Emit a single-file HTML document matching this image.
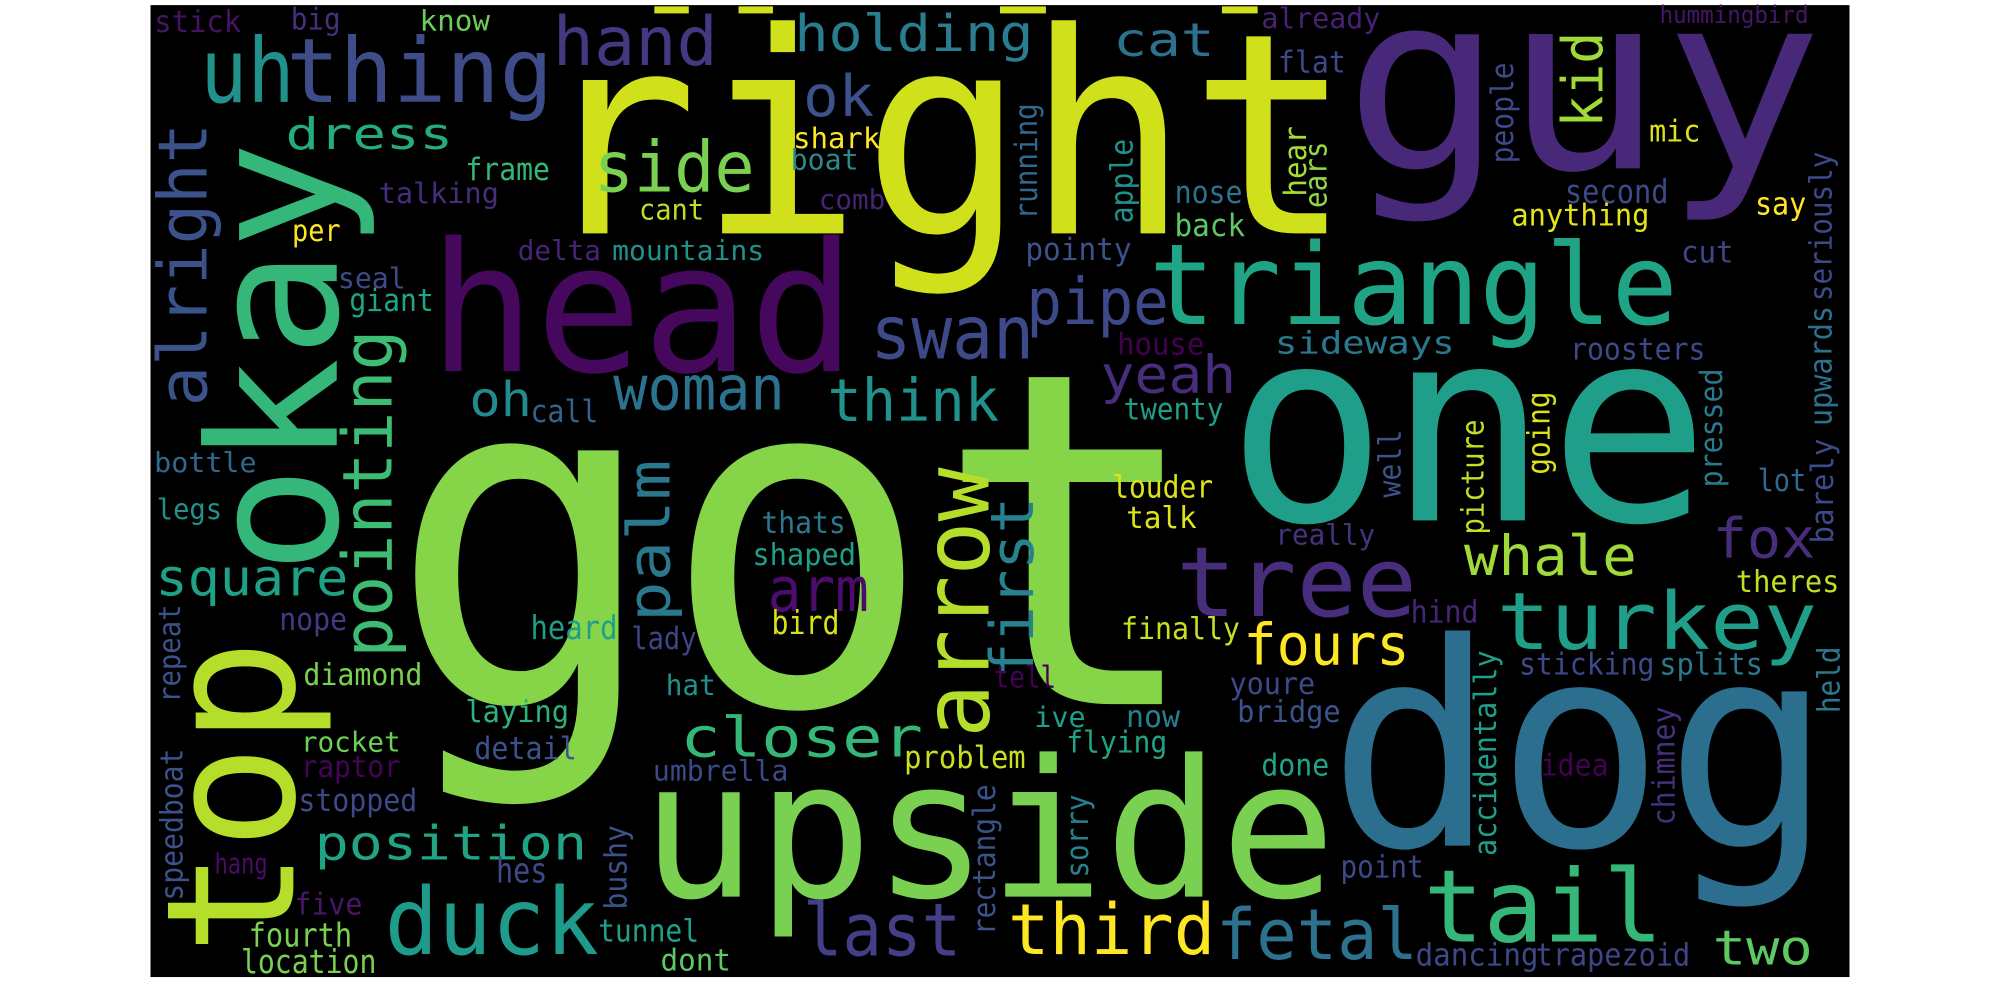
<!DOCTYPE html>
<html><head><meta charset="utf-8"><style>
html,body{margin:0;padding:0;background:#fff;}
svg{display:block;}
text{font-family:"DejaVu Sans Mono","Liberation Mono",monospace;}
</style></head><body>
<svg id="cloud" width="2000" height="1000" viewBox="0 0 1568 784" xmlns="http://www.w3.org/2000/svg">
<rect x="118" y="4" width="1332" height="762" fill="#000"/>
<g id="marks" fill="#d0e11c">
<rect x="513" y="5" width="27" height="5.5"/><rect x="579" y="5" width="27" height="5.5"/>
<rect x="784" y="5" width="36" height="5.5"/><rect x="958" y="5" width="28" height="5.5"/>
</g>
<g id="words"></g>
</svg>
<script>
// horizontal words: text, font size, colour
const hWords = ["stick","big","know","hand","holding","cat","already","hummingbird","uh","thing","right","flat","guy","ok","dress","side","shark","boat","frame","talking","comb","cant","per","delta","mountains","head","seal","giant","swan","oh","call","woman","think","bottle","nose","back","second","mic","anything","say","pointy","cut","pipe","triangle","house","sideways","roosters","yeah","twenty","one","lot","louder","legs","square","nope","heard","lady","arm","bird","thats","shaped","diamond","hat","laying","closer","detail","rocket","raptor","problem","umbrella","stopped","position","upside","hang","hes","five","duck","tunnel","last","fourth","location","dont","talk","really","tree","fox","whale","theres","hind","finally","fours","turkey","sticking","splits","tell","youre","ive","now","bridge","flying","done","idea","dog","point","third","fetal","tail","two","dancing","trapezoid","got"];
const hSizes = [21,21,20,53,40,36,20,17,70,70,220,21,193,45,34,55,20,20,22,20,19,20,21,19,19,141,20,22,58,38,22,48,46,19,22,22,23,21,21,22,22,21,50,88,21,22,21,41,21,212,22,22,20,40,22,23,22,48,23,21,21,21,20,21,43,22,19,21,22,20,22,37,150,20,24,21,73,22,57,23,23,21,21,20,76,43,43,21,22,21,45,62,21,21,21,21,20,21,21,21,21,21,222,22,55,55,79,38,22,22,365];
const hColors = ["#471365","#46307e","#6ccd5a","#453781","#287d8e","#2c728e","#482173","#481668","#21918c","#3e4c8a","#d0e11c","#3e4989","#482878","#3b528b","#25ab82","#7ad151","#fde725","#2c8a8d","#35b779","#472d7b","#482475","#bddf26","#fde725","#482475","#21918c","#46085c","#3e4a89","#20a486","#3e4989","#238a8d","#33638d","#2c728e","#21918c","#31688e","#2c728e","#5ec962","#3e4989","#dde318","#e5e419","#fde725","#3b528b","#414487","#3e4989","#20a486","#440154","#2a788e","#3e4989","#472d7b","#1f9e89","#1f9e89","#31688e","#dde318","#21918c","#1fa187","#443a83","#1f9e89","#414487","#4b0c6b","#d8e219","#2a788e","#1f9e89","#7ad151","#21918c","#2db27d","#35b779","#3b528b","#6ece58","#450457","#c8e020","#3e4989","#3e4989","#20a486","#7ad151","#4a0c6b","#3e4989","#481769","#1e9b8a","#1fa088","#433e85","#7ad151","#7ad151","#5ec962","#dde318","#46337e","#472d7b","#472d7b","#a0da39","#c2df23","#482475","#c8e020","#fde725","#1f9e89","#3e4989","#2a788e","#440154","#3e4989","#1f9e89","#26828e","#3b528b","#20a486","#20a486","#440154","#2c6e8e","#3e4989","#fde725","#2c728e","#35b779","#5ec962","#3e4989","#414487","#86d549"];
// layout boxes (left, right, baseline) in cloud units
const hLayout = [[122,188,25],[229,266,23],[330,383,24],[436,560,51],[625,808,40],[875,950,44],[990,1081,22],[1302,1417,18],[160,228,80],[228,430,80],[430,1050,183],[1003,1054,57],[1064,1419,132],[632,683,91],[226,353,117],[468,589,150],[623,689,116],[621,672,133],[366,430,141],[298,390,159],[643,693,164],[502,551,172],[230,266,189],[407,470,204],[481,598,204],[343,664,291],[266,317,226],[275,339,244],[685,808,281],[370,415,326],[417,468,331],[483,613,321],[651,781,330],[122,200,370],[922,973,159],[922,975,185],[1228,1307,159],[1294,1332,111],[1186,1292,177],[1377,1415,168],[805,886,204],[1319,1358,206],[807,914,254],[905,1311,254],[877,943,278],[1001,1139,277],[1232,1336,282],[865,967,308],[882,958,329],[972,1330,408],[1379,1415,385],[873,950,390],[124,173,407],[124,271,467],[220,271,494],[417,483,501],[496,545,509],[604,679,479],[606,657,497],[598,662,418],[591,670,443],[239,330,537],[523,560,545],[366,445,566],[536,721,593],[373,451,595],[237,313,589],[237,313,609],[710,803,602],[513,617,612],[235,326,636],[249,458,674],[510,1040,703],[169,209,685],[390,428,692],[232,283,717],[305,466,748],[470,547,738],[632,751,749],[196,275,742],[190,294,763],[519,572,761],[884,937,414],[1001,1077,427],[926,1107,483],[1345,1421,437],[1150,1281,451],[1362,1441,464],[1107,1158,488],[880,971,501],[977,1103,521],[1177,1421,509],[1192,1296,529],[1302,1381,529],[780,827,539],[965,1030,544],[812,850,570],[884,924,570],[971,1050,566],[837,914,590],[990,1041,608],[1209,1260,608],[1052,1426,663],[1052,1115,688],[793,950,748],[956,1109,752],[1120,1300,738],[1345,1419,756],[1111,1205,757],[1205,1324,757],[322,928,552]];

// vertical words (read bottom-to-top): text, size, colour
const vWords = ["alright","okay","top","pointing","palm","arrow","first","kid","people","running","apple","hear","ears","seriously","upwards","barely","pressed","going","well","picture","repeat","speedboat","bushy","rectangle","held","accidentally","chimney","sorry"];
const vSizes = [53,140,140,54,46,72,47,44,22,22,22,22,22,22,22,22,22,22,22,22,21,22,22,22,22,22,22,22];
const vColors = ["#3b528b","#35b779","#b5de2b","#3dbc74","#2a788e","#b5de2b","#26828e","#a0da39","#3e4989","#31688e","#21918c","#a8db34","#8fd744","#3e4989","#2c728e","#3e4989","#2a788e","#dde318","#3b528b","#c2df23","#3b528b","#3b528b","#3b528b","#3b528b","#2a788e","#1f9e89","#46307e","#26828e"];
// layout (baselineX, startY bottom, endY top)
const vLayout = [[162,316,99],[264,443,118],[230,742,508],[307,513,261],[525,485,363],[775,575,370],[810,530,392],[1256,98,27],[1186,127,50],[813,171,82],[888,174,110],[1024,153,100],[1040,162,112],[1436,235,120],[1436,333,241],[1437,425,345],[1350,381,290],[1215,371,308],[1098,389,338],[1163,418,330],[141,550,475],[143,705,588],[491,712,648],[780,732,616],[1442,558,508],[1173,670,511],[1313,646,555],[853,687,624]];

const NS = "http://www.w3.org/2000/svg";
const g = document.getElementById("words");
function fit(text, f, inkLen){
  const n = text.length;
  const adv = n*0.602*f;
  const ink = adv - 0.1*f;
  const k = inkLen/ink;
  return {len: adv*k, off: 0.05*f*k};
}
function shown(f){ return f <= 30 ? f*1.12 : f; }
const items = [];
hWords.forEach(function(w,i){ items.push({w:w, f:hSizes[i], c:hColors[i], L:hLayout[i], v:false}); });
vWords.forEach(function(w,i){ items.push({w:w, f:vSizes[i], c:vColors[i], L:vLayout[i], v:true}); });
items.sort(function(a,b){ return b.f - a.f; });
items.forEach(function(it){
  const t = document.createElementNS(NS,"text");
  const f = it.f, L = it.L;
  if (!it.v) {
    const m = fit(it.w, f, L[1]-L[0]);
    t.setAttribute("x", L[0]-m.off);
    t.setAttribute("y", L[2]);
    t.setAttribute("textLength", m.len);
  } else {
    const m = fit(it.w, f, L[1]-L[2]);
    t.setAttribute("x", -m.off);
    t.setAttribute("y", 0);
    t.setAttribute("transform", "translate(" + L[0] + "," + L[1] + ") rotate(-90)");
    t.setAttribute("textLength", m.len);
  }
  t.setAttribute("font-size", shown(f));
  t.setAttribute("fill", it.c);
  t.setAttribute("lengthAdjust", "spacingAndGlyphs");
  
  
  t.textContent = it.w;
  g.appendChild(t);
});
</script>
</body></html>
